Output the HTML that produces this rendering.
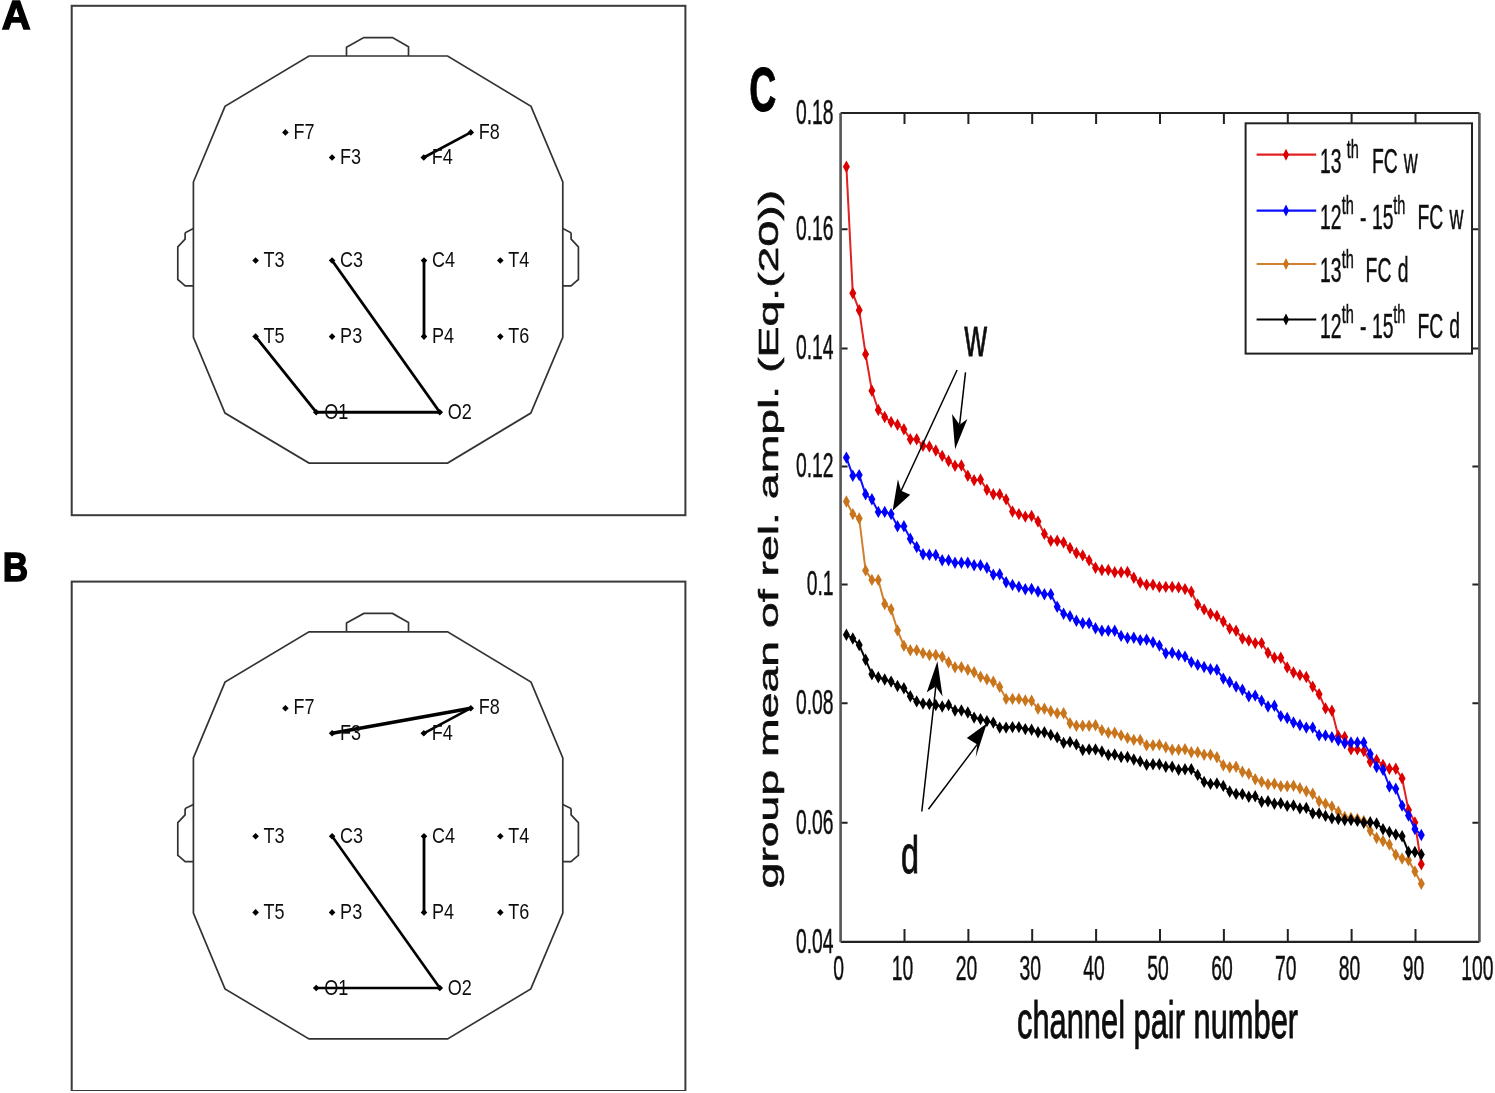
<!DOCTYPE html>
<html><head><meta charset="utf-8"><title>Figure</title>
<style>
html,body{margin:0;padding:0;background:#fff;}
body{width:1495px;height:1093px;overflow:hidden;}
svg{display:block;font-family:"Liberation Sans", sans-serif;}
</style></head>
<body>
<svg width="1495" height="1093" viewBox="0 0 1495 1093">
<defs><filter id="bl" x="0" y="0" width="100%" height="100%"><feGaussianBlur stdDeviation="0.55"/></filter></defs>
<rect width="1495" height="1093" fill="#fff"/>
<g filter="url(#bl)">
<rect x="71.7" y="5.8" width="613.7" height="509.4" fill="none" stroke="#3a3a3a" stroke-width="2"/>
<polygon points="193.4,182.0 225,106.3 309,56.0 447.6,56.0 531,106.3 562.8,182.0 562.8,337.4 530.8,413.1 447.6,463.1 309,463.1 225,413.1 193.4,337.4" fill="none" stroke="#333" stroke-width="1.7"/>
<polyline points="346.5,56.0 346.5,47.3 363.8,37.6 392.5,37.6 408.5,46.8 408.5,56.0" fill="none" stroke="#333" stroke-width="1.7"/>
<polyline points="193.4,228.6 185.6,232.5 185.1,233.7 185.1,239.1 177.8,246.9 177.8,279.5 180.6,281.9 185.2,285.8 193.4,285.8" fill="none" stroke="#333" stroke-width="1.7"/>
<polyline points="562.8,228.6 570.6,232.5 571.1,233.7 571.1,239.1 578.4,246.9 578.4,279.5 575.6,281.9 571.0,285.8 562.8,285.8" fill="none" stroke="#333" stroke-width="1.7"/>
<line x1="423.8" y1="157.5" x2="470.8" y2="132.4" stroke="#000" stroke-width="2.7"/>
<line x1="332.1" y1="260.5" x2="439.8" y2="412.2" stroke="#000" stroke-width="2.8"/>
<line x1="424" y1="260.5" x2="424" y2="336.6" stroke="#000" stroke-width="2.8"/>
<line x1="255.6" y1="336.6" x2="316.2" y2="412.2" stroke="#000" stroke-width="2.8"/>
<line x1="316.2" y1="412.2" x2="439.8" y2="412.2" stroke="#000" stroke-width="3"/>
<polygon points="282.1,132.4 285.4,129.1 288.7,132.4 285.4,135.7" fill="#000"/>
<g transform="translate(293.4,138.6) scale(0.82,1)"><text font-size="22" fill="#111">F7</text></g>
<polygon points="328.8,157.5 332.1,154.2 335.4,157.5 332.1,160.8" fill="#000"/>
<g transform="translate(340.1,163.7) scale(0.82,1)"><text font-size="22" fill="#111">F3</text></g>
<polygon points="420.5,157.5 423.8,154.2 427.1,157.5 423.8,160.8" fill="#000"/>
<g transform="translate(431.8,163.7) scale(0.82,1)"><text font-size="22" fill="#111">F4</text></g>
<polygon points="467.5,132.4 470.8,129.1 474.1,132.4 470.8,135.7" fill="#000"/>
<g transform="translate(478.8,138.6) scale(0.82,1)"><text font-size="22" fill="#111">F8</text></g>
<polygon points="252.3,260.5 255.6,257.2 258.9,260.5 255.6,263.8" fill="#000"/>
<g transform="translate(263.6,266.7) scale(0.82,1)"><text font-size="22" fill="#111">T3</text></g>
<polygon points="328.8,260.5 332.1,257.2 335.4,260.5 332.1,263.8" fill="#000"/>
<g transform="translate(340.1,266.7) scale(0.82,1)"><text font-size="22" fill="#111">C3</text></g>
<polygon points="420.7,260.5 424.0,257.2 427.3,260.5 424.0,263.8" fill="#000"/>
<g transform="translate(432.0,266.7) scale(0.82,1)"><text font-size="22" fill="#111">C4</text></g>
<polygon points="497.0,260.5 500.3,257.2 503.6,260.5 500.3,263.8" fill="#000"/>
<g transform="translate(508.3,266.7) scale(0.82,1)"><text font-size="22" fill="#111">T4</text></g>
<polygon points="252.3,336.6 255.6,333.3 258.9,336.6 255.6,339.9" fill="#000"/>
<g transform="translate(263.6,342.8) scale(0.82,1)"><text font-size="22" fill="#111">T5</text></g>
<polygon points="328.8,336.6 332.1,333.3 335.4,336.6 332.1,339.9" fill="#000"/>
<g transform="translate(340.1,342.8) scale(0.82,1)"><text font-size="22" fill="#111">P3</text></g>
<polygon points="420.7,336.6 424.0,333.3 427.3,336.6 424.0,339.9" fill="#000"/>
<g transform="translate(432.0,342.8) scale(0.82,1)"><text font-size="22" fill="#111">P4</text></g>
<polygon points="497.0,336.6 500.3,333.3 503.6,336.6 500.3,339.9" fill="#000"/>
<g transform="translate(508.3,342.8) scale(0.82,1)"><text font-size="22" fill="#111">T6</text></g>
<polygon points="312.9,412.2 316.2,408.9 319.5,412.2 316.2,415.5" fill="#000"/>
<g transform="translate(324.2,419.4) scale(0.82,1)"><text font-size="22" fill="#111">O1</text></g>
<polygon points="436.5,412.2 439.8,408.9 443.1,412.2 439.8,415.5" fill="#000"/>
<g transform="translate(447.8,419.4) scale(0.82,1)"><text font-size="22" fill="#111">O2</text></g>
<rect x="71.7" y="581.6" width="613.7" height="509.4" fill="none" stroke="#3a3a3a" stroke-width="2"/>
<polygon points="193.4,757.8 225,682.1 309,631.8 447.6,631.8 531,682.1 562.8,757.8 562.8,913.2 530.8,988.9 447.6,1038.9 309,1038.9 225,988.9 193.4,913.2" fill="none" stroke="#333" stroke-width="1.7"/>
<polyline points="346.5,631.8 346.5,623.1 363.8,613.4 392.5,613.4 408.5,622.6 408.5,631.8" fill="none" stroke="#333" stroke-width="1.7"/>
<polyline points="193.4,804.4 185.6,808.3 185.1,809.5 185.1,814.9 177.8,822.7 177.8,855.3 180.6,857.7 185.2,861.6 193.4,861.6" fill="none" stroke="#333" stroke-width="1.7"/>
<polyline points="562.8,804.4 570.6,808.3 571.1,809.5 571.1,814.9 578.4,822.7 578.4,855.3 575.6,857.7 571.0,861.6 562.8,861.6" fill="none" stroke="#333" stroke-width="1.7"/>
<line x1="332.1" y1="733.3" x2="470.8" y2="708.2" stroke="#000" stroke-width="3.6"/>
<line x1="423.8" y1="733.3" x2="470.8" y2="708.2" stroke="#000" stroke-width="2.6"/>
<line x1="332.1" y1="836.3" x2="439.8" y2="988.0" stroke="#000" stroke-width="2.6"/>
<line x1="424" y1="836.3" x2="424" y2="912.4" stroke="#000" stroke-width="2.8"/>
<line x1="316.2" y1="988.0" x2="439.8" y2="988.0" stroke="#000" stroke-width="2.6"/>
<polygon points="282.1,708.2 285.4,704.9 288.7,708.2 285.4,711.5" fill="#000"/>
<g transform="translate(293.4,714.4) scale(0.82,1)"><text font-size="22" fill="#111">F7</text></g>
<polygon points="328.8,733.3 332.1,730.0 335.4,733.3 332.1,736.6" fill="#000"/>
<g transform="translate(340.1,739.5) scale(0.82,1)"><text font-size="22" fill="#111">F3</text></g>
<polygon points="420.5,733.3 423.8,730.0 427.1,733.3 423.8,736.6" fill="#000"/>
<g transform="translate(431.8,739.5) scale(0.82,1)"><text font-size="22" fill="#111">F4</text></g>
<polygon points="467.5,708.2 470.8,704.9 474.1,708.2 470.8,711.5" fill="#000"/>
<g transform="translate(478.8,714.4) scale(0.82,1)"><text font-size="22" fill="#111">F8</text></g>
<polygon points="252.3,836.3 255.6,833.0 258.9,836.3 255.6,839.6" fill="#000"/>
<g transform="translate(263.6,842.5) scale(0.82,1)"><text font-size="22" fill="#111">T3</text></g>
<polygon points="328.8,836.3 332.1,833.0 335.4,836.3 332.1,839.6" fill="#000"/>
<g transform="translate(340.1,842.5) scale(0.82,1)"><text font-size="22" fill="#111">C3</text></g>
<polygon points="420.7,836.3 424.0,833.0 427.3,836.3 424.0,839.6" fill="#000"/>
<g transform="translate(432.0,842.5) scale(0.82,1)"><text font-size="22" fill="#111">C4</text></g>
<polygon points="497.0,836.3 500.3,833.0 503.6,836.3 500.3,839.6" fill="#000"/>
<g transform="translate(508.3,842.5) scale(0.82,1)"><text font-size="22" fill="#111">T4</text></g>
<polygon points="252.3,912.4 255.6,909.1 258.9,912.4 255.6,915.7" fill="#000"/>
<g transform="translate(263.6,918.6) scale(0.82,1)"><text font-size="22" fill="#111">T5</text></g>
<polygon points="328.8,912.4 332.1,909.1 335.4,912.4 332.1,915.7" fill="#000"/>
<g transform="translate(340.1,918.6) scale(0.82,1)"><text font-size="22" fill="#111">P3</text></g>
<polygon points="420.7,912.4 424.0,909.1 427.3,912.4 424.0,915.7" fill="#000"/>
<g transform="translate(432.0,918.6) scale(0.82,1)"><text font-size="22" fill="#111">P4</text></g>
<polygon points="497.0,912.4 500.3,909.1 503.6,912.4 500.3,915.7" fill="#000"/>
<g transform="translate(508.3,918.6) scale(0.82,1)"><text font-size="22" fill="#111">T6</text></g>
<polygon points="312.9,988.0 316.2,984.7 319.5,988.0 316.2,991.3" fill="#000"/>
<g transform="translate(324.2,995.2) scale(0.82,1)"><text font-size="22" fill="#111">O1</text></g>
<polygon points="436.5,988.0 439.8,984.7 443.1,988.0 439.8,991.3" fill="#000"/>
<g transform="translate(447.8,995.2) scale(0.82,1)"><text font-size="22" fill="#111">O2</text></g>
<text x="1.8" y="28.6" font-size="40" font-weight="bold" stroke="#000" stroke-width="1.4">A</text>
<g transform="translate(2.8,580.8) scale(0.88,1)"><text font-size="40" font-weight="bold" stroke="#000" stroke-width="1.4">B</text></g>
<g transform="translate(749.2,110.8) scale(0.6,1)"><text font-size="62.3" font-weight="bold" stroke="#000" stroke-width="1">C</text></g>
<g transform="translate(833.6,123.9) scale(0.545,1)"><text text-anchor="end" font-size="35.5" fill="#111" stroke="#111" stroke-width="0.5">0.18</text></g>
<g transform="translate(833.6,240.1) scale(0.545,1)"><text text-anchor="end" font-size="35.5" fill="#111" stroke="#111" stroke-width="0.5">0.16</text></g>
<g transform="translate(833.6,359.3) scale(0.545,1)"><text text-anchor="end" font-size="35.5" fill="#111" stroke="#111" stroke-width="0.5">0.14</text></g>
<g transform="translate(833.6,477.3) scale(0.545,1)"><text text-anchor="end" font-size="35.5" fill="#111" stroke="#111" stroke-width="0.5">0.12</text></g>
<g transform="translate(833.6,595.3) scale(0.545,1)"><text text-anchor="end" font-size="35.5" fill="#111" stroke="#111" stroke-width="0.5">0.1</text></g>
<g transform="translate(833.6,714.2) scale(0.545,1)"><text text-anchor="end" font-size="35.5" fill="#111" stroke="#111" stroke-width="0.5">0.08</text></g>
<g transform="translate(833.6,833.6) scale(0.545,1)"><text text-anchor="end" font-size="35.5" fill="#111" stroke="#111" stroke-width="0.5">0.06</text></g>
<g transform="translate(833.6,952.8) scale(0.545,1)"><text text-anchor="end" font-size="35.5" fill="#111" stroke="#111" stroke-width="0.5">0.04</text></g>
<g transform="translate(838.6,980) scale(0.545,1)"><text text-anchor="middle" font-size="35.5" fill="#111" stroke="#111" stroke-width="0.5">0</text></g>
<g transform="translate(902.5,980) scale(0.545,1)"><text text-anchor="middle" font-size="35.5" fill="#111" stroke="#111" stroke-width="0.5">10</text></g>
<g transform="translate(966.4,980) scale(0.545,1)"><text text-anchor="middle" font-size="35.5" fill="#111" stroke="#111" stroke-width="0.5">20</text></g>
<g transform="translate(1030.2,980) scale(0.545,1)"><text text-anchor="middle" font-size="35.5" fill="#111" stroke="#111" stroke-width="0.5">30</text></g>
<g transform="translate(1094.1,980) scale(0.545,1)"><text text-anchor="middle" font-size="35.5" fill="#111" stroke="#111" stroke-width="0.5">40</text></g>
<g transform="translate(1158.0,980) scale(0.545,1)"><text text-anchor="middle" font-size="35.5" fill="#111" stroke="#111" stroke-width="0.5">50</text></g>
<g transform="translate(1221.9,980) scale(0.545,1)"><text text-anchor="middle" font-size="35.5" fill="#111" stroke="#111" stroke-width="0.5">60</text></g>
<g transform="translate(1285.8,980) scale(0.545,1)"><text text-anchor="middle" font-size="35.5" fill="#111" stroke="#111" stroke-width="0.5">70</text></g>
<g transform="translate(1349.6,980) scale(0.545,1)"><text text-anchor="middle" font-size="35.5" fill="#111" stroke="#111" stroke-width="0.5">80</text></g>
<g transform="translate(1413.5,980) scale(0.545,1)"><text text-anchor="middle" font-size="35.5" fill="#111" stroke="#111" stroke-width="0.5">90</text></g>
<g transform="translate(1477.4,980) scale(0.545,1)"><text text-anchor="middle" font-size="35.5" fill="#111" stroke="#111" stroke-width="0.5">100</text></g>
<path d="M904.5,941.9V929M904.5,113V124M968.4,941.9V929M968.4,113V124M1032.2,941.9V929M1032.2,113V124M1096.1,941.9V929M1096.1,113V124M1160.0,941.9V929M1160.0,113V124M1223.9,941.9V929M1223.9,113V124M1287.8,941.9V929M1287.8,113V124M1351.6,941.9V929M1351.6,113V124M1415.5,941.9V929M1415.5,113V124M840.6,229.2H847.6M1479.4,229.2H1472.4M840.6,348.4H847.6M1479.4,348.4H1472.4M840.6,466.4H847.6M1479.4,466.4H1472.4M840.6,584.4H847.6M1479.4,584.4H1472.4M840.6,703.3H847.6M1479.4,703.3H1472.4M840.6,822.7H847.6M1479.4,822.7H1472.4" stroke="#222" stroke-width="2" fill="none"/>
<polyline points="846.4,166.8 852.8,293.2 859.2,310.2 865.6,354.2 871.9,390.8 878.3,410.0 884.7,417.0 891.1,422.0 897.5,424.7 903.9,429.3 910.3,439.3 916.7,439.3 923.0,445.7 929.4,446.5 935.8,450.5 942.2,455.9 948.6,461.0 955.0,465.8 961.4,465.5 967.8,475.7 974.1,480.2 980.5,479.5 986.9,489.8 993.3,494.3 999.7,494.3 1006.1,499.4 1012.5,511.5 1018.9,514.1 1025.3,516.6 1031.6,516.0 1038.0,521.5 1044.4,533.9 1050.8,540.7 1057.2,540.7 1063.6,542.5 1070.0,548.0 1076.4,553.0 1082.7,555.4 1089.1,560.4 1095.5,567.7 1101.9,570.0 1108.3,570.0 1114.7,572.3 1121.1,572.3 1127.5,572.0 1133.8,577.7 1140.2,582.5 1146.6,584.7 1153.0,584.7 1159.4,586.9 1165.8,586.9 1172.2,586.9 1178.6,587.4 1185.0,589.1 1191.3,591.8 1197.7,604.5 1204.1,609.4 1210.5,613.8 1216.9,616.0 1223.3,621.5 1229.7,628.6 1236.1,630.8 1242.4,638.5 1248.8,640.5 1255.2,643.1 1261.6,643.1 1268.0,652.7 1274.4,657.8 1280.8,657.8 1287.2,667.4 1293.5,672.5 1299.9,675.1 1306.3,677.0 1312.7,686.6 1319.1,694.3 1325.5,708.4 1331.9,710.8 1338.3,736.0 1344.7,737.0 1351.0,749.4 1357.4,749.4 1363.8,751.0 1370.2,761.7 1376.6,760.0 1383.0,765.0 1389.4,768.8 1395.8,768.8 1402.1,778.4 1408.5,810.0 1414.9,822.4 1421.3,864.3" fill="none" stroke="#e02020" stroke-width="2"/>
<path d="M842.9,166.8L846.4,160.6L849.9,166.8L846.4,173.0ZM849.3,293.2L852.8,287.0L856.3,293.2L852.8,299.4ZM855.7,310.2L859.2,304.0L862.7,310.2L859.2,316.4ZM862.1,354.2L865.6,348.0L869.1,354.2L865.6,360.4ZM868.4,390.8L871.9,384.6L875.4,390.8L871.9,397.0ZM874.8,410.0L878.3,403.8L881.8,410.0L878.3,416.2ZM881.2,417.0L884.7,410.8L888.2,417.0L884.7,423.2ZM887.6,422.0L891.1,415.8L894.6,422.0L891.1,428.2ZM894.0,424.7L897.5,418.5L901.0,424.7L897.5,430.9ZM900.4,429.3L903.9,423.1L907.4,429.3L903.9,435.5ZM906.8,439.3L910.3,433.1L913.8,439.3L910.3,445.5ZM913.2,439.3L916.7,433.1L920.2,439.3L916.7,445.5ZM919.5,445.7L923.0,439.5L926.5,445.7L923.0,451.9ZM925.9,446.5L929.4,440.3L932.9,446.5L929.4,452.7ZM932.3,450.5L935.8,444.3L939.3,450.5L935.8,456.7ZM938.7,455.9L942.2,449.7L945.7,455.9L942.2,462.1ZM945.1,461.0L948.6,454.8L952.1,461.0L948.6,467.2ZM951.5,465.8L955.0,459.6L958.5,465.8L955.0,472.0ZM957.9,465.5L961.4,459.3L964.9,465.5L961.4,471.7ZM964.3,475.7L967.8,469.5L971.3,475.7L967.8,481.9ZM970.6,480.2L974.1,474.0L977.6,480.2L974.1,486.4ZM977.0,479.5L980.5,473.3L984.0,479.5L980.5,485.7ZM983.4,489.8L986.9,483.6L990.4,489.8L986.9,496.0ZM989.8,494.3L993.3,488.1L996.8,494.3L993.3,500.5ZM996.2,494.3L999.7,488.1L1003.2,494.3L999.7,500.5ZM1002.6,499.4L1006.1,493.2L1009.6,499.4L1006.1,505.6ZM1009.0,511.5L1012.5,505.3L1016.0,511.5L1012.5,517.7ZM1015.4,514.1L1018.9,507.9L1022.4,514.1L1018.9,520.3ZM1021.8,516.6L1025.3,510.4L1028.8,516.6L1025.3,522.8ZM1028.1,516.0L1031.6,509.8L1035.1,516.0L1031.6,522.2ZM1034.5,521.5L1038.0,515.3L1041.5,521.5L1038.0,527.7ZM1040.9,533.9L1044.4,527.7L1047.9,533.9L1044.4,540.1ZM1047.3,540.7L1050.8,534.5L1054.3,540.7L1050.8,546.9ZM1053.7,540.7L1057.2,534.5L1060.7,540.7L1057.2,546.9ZM1060.1,542.5L1063.6,536.3L1067.1,542.5L1063.6,548.7ZM1066.5,548.0L1070.0,541.8L1073.5,548.0L1070.0,554.2ZM1072.9,553.0L1076.4,546.8L1079.9,553.0L1076.4,559.2ZM1079.2,555.4L1082.7,549.2L1086.2,555.4L1082.7,561.6ZM1085.6,560.4L1089.1,554.2L1092.6,560.4L1089.1,566.6ZM1092.0,567.7L1095.5,561.5L1099.0,567.7L1095.5,573.9ZM1098.4,570.0L1101.9,563.8L1105.4,570.0L1101.9,576.2ZM1104.8,570.0L1108.3,563.8L1111.8,570.0L1108.3,576.2ZM1111.2,572.3L1114.7,566.1L1118.2,572.3L1114.7,578.5ZM1117.6,572.3L1121.1,566.1L1124.6,572.3L1121.1,578.5ZM1124.0,572.0L1127.5,565.8L1131.0,572.0L1127.5,578.2ZM1130.3,577.7L1133.8,571.5L1137.3,577.7L1133.8,583.9ZM1136.7,582.5L1140.2,576.3L1143.7,582.5L1140.2,588.7ZM1143.1,584.7L1146.6,578.5L1150.1,584.7L1146.6,590.9ZM1149.5,584.7L1153.0,578.5L1156.5,584.7L1153.0,590.9ZM1155.9,586.9L1159.4,580.7L1162.9,586.9L1159.4,593.1ZM1162.3,586.9L1165.8,580.7L1169.3,586.9L1165.8,593.1ZM1168.7,586.9L1172.2,580.7L1175.7,586.9L1172.2,593.1ZM1175.1,587.4L1178.6,581.2L1182.1,587.4L1178.6,593.6ZM1181.5,589.1L1185.0,582.9L1188.5,589.1L1185.0,595.3ZM1187.8,591.8L1191.3,585.6L1194.8,591.8L1191.3,598.0ZM1194.2,604.5L1197.7,598.3L1201.2,604.5L1197.7,610.7ZM1200.6,609.4L1204.1,603.2L1207.6,609.4L1204.1,615.6ZM1207.0,613.8L1210.5,607.6L1214.0,613.8L1210.5,620.0ZM1213.4,616.0L1216.9,609.8L1220.4,616.0L1216.9,622.2ZM1219.8,621.5L1223.3,615.3L1226.8,621.5L1223.3,627.7ZM1226.2,628.6L1229.7,622.4L1233.2,628.6L1229.7,634.8ZM1232.6,630.8L1236.1,624.6L1239.6,630.8L1236.1,637.0ZM1238.9,638.5L1242.4,632.3L1245.9,638.5L1242.4,644.7ZM1245.3,640.5L1248.8,634.3L1252.3,640.5L1248.8,646.7ZM1251.7,643.1L1255.2,636.9L1258.7,643.1L1255.2,649.3ZM1258.1,643.1L1261.6,636.9L1265.1,643.1L1261.6,649.3ZM1264.5,652.7L1268.0,646.5L1271.5,652.7L1268.0,658.9ZM1270.9,657.8L1274.4,651.6L1277.9,657.8L1274.4,664.0ZM1277.3,657.8L1280.8,651.6L1284.3,657.8L1280.8,664.0ZM1283.7,667.4L1287.2,661.2L1290.7,667.4L1287.2,673.6ZM1290.0,672.5L1293.5,666.3L1297.0,672.5L1293.5,678.7ZM1296.4,675.1L1299.9,668.9L1303.4,675.1L1299.9,681.3ZM1302.8,677.0L1306.3,670.8L1309.8,677.0L1306.3,683.2ZM1309.2,686.6L1312.7,680.4L1316.2,686.6L1312.7,692.8ZM1315.6,694.3L1319.1,688.1L1322.6,694.3L1319.1,700.5ZM1322.0,708.4L1325.5,702.2L1329.0,708.4L1325.5,714.6ZM1328.4,710.8L1331.9,704.6L1335.4,710.8L1331.9,717.0ZM1334.8,736.0L1338.3,729.8L1341.8,736.0L1338.3,742.2ZM1341.2,737.0L1344.7,730.8L1348.2,737.0L1344.7,743.2ZM1347.5,749.4L1351.0,743.2L1354.5,749.4L1351.0,755.6ZM1353.9,749.4L1357.4,743.2L1360.9,749.4L1357.4,755.6ZM1360.3,751.0L1363.8,744.8L1367.3,751.0L1363.8,757.2ZM1366.7,761.7L1370.2,755.5L1373.7,761.7L1370.2,767.9ZM1373.1,760.0L1376.6,753.8L1380.1,760.0L1376.6,766.2ZM1379.5,765.0L1383.0,758.8L1386.5,765.0L1383.0,771.2ZM1385.9,768.8L1389.4,762.6L1392.9,768.8L1389.4,775.0ZM1392.3,768.8L1395.8,762.6L1399.3,768.8L1395.8,775.0ZM1398.6,778.4L1402.1,772.2L1405.6,778.4L1402.1,784.6ZM1405.0,810.0L1408.5,803.8L1412.0,810.0L1408.5,816.2ZM1411.4,822.4L1414.9,816.2L1418.4,822.4L1414.9,828.6ZM1417.8,864.3L1421.3,858.1L1424.8,864.3L1421.3,870.5Z" fill="#dd0000"/>
<polyline points="846.4,457.6 852.8,475.7 859.2,475.1 865.6,494.3 871.9,499.3 878.3,511.9 884.7,511.9 891.1,514.1 897.5,526.2 903.9,526.2 910.3,538.8 916.7,547.0 923.0,554.2 929.4,554.7 935.8,555.0 942.2,560.2 948.6,560.2 955.0,562.7 961.4,562.7 967.8,562.7 974.1,565.2 980.5,565.2 986.9,567.7 993.3,574.8 999.7,574.3 1006.1,582.3 1012.5,584.9 1018.9,586.7 1025.3,589.3 1031.6,589.0 1038.0,591.5 1044.4,594.3 1050.8,594.2 1057.2,606.7 1063.6,613.7 1070.0,616.2 1076.4,620.8 1082.7,623.3 1089.1,623.3 1095.5,628.3 1101.9,630.8 1108.3,630.8 1114.7,630.8 1121.1,635.9 1127.5,638.0 1133.8,637.7 1140.2,640.1 1146.6,639.6 1153.0,642.3 1159.4,645.6 1165.8,653.3 1172.2,652.8 1178.6,655.0 1185.0,656.6 1191.3,662.1 1197.7,664.9 1204.1,667.0 1210.5,669.2 1216.9,669.8 1223.3,678.6 1229.7,682.0 1236.1,686.6 1242.4,689.8 1248.8,696.2 1255.2,695.6 1261.6,700.7 1268.0,706.5 1274.4,705.8 1280.8,716.1 1287.2,718.0 1293.5,722.5 1299.9,725.0 1306.3,727.6 1312.7,727.6 1319.1,735.3 1325.5,735.4 1331.9,737.2 1338.3,740.3 1344.7,743.3 1351.0,742.5 1357.4,742.5 1363.8,742.5 1370.2,754.0 1376.6,767.0 1383.0,769.7 1389.4,786.5 1395.8,788.7 1402.1,805.6 1408.5,815.5 1414.9,829.0 1421.3,835.0" fill="none" stroke="#1010ff" stroke-width="2"/>
<path d="M842.9,457.6L846.4,451.4L849.9,457.6L846.4,463.8ZM849.3,475.7L852.8,469.5L856.3,475.7L852.8,481.9ZM855.7,475.1L859.2,468.9L862.7,475.1L859.2,481.3ZM862.1,494.3L865.6,488.1L869.1,494.3L865.6,500.5ZM868.4,499.3L871.9,493.1L875.4,499.3L871.9,505.5ZM874.8,511.9L878.3,505.7L881.8,511.9L878.3,518.1ZM881.2,511.9L884.7,505.7L888.2,511.9L884.7,518.1ZM887.6,514.1L891.1,507.9L894.6,514.1L891.1,520.3ZM894.0,526.2L897.5,520.0L901.0,526.2L897.5,532.4ZM900.4,526.2L903.9,520.0L907.4,526.2L903.9,532.4ZM906.8,538.8L910.3,532.6L913.8,538.8L910.3,545.0ZM913.2,547.0L916.7,540.8L920.2,547.0L916.7,553.2ZM919.5,554.2L923.0,548.0L926.5,554.2L923.0,560.4ZM925.9,554.7L929.4,548.5L932.9,554.7L929.4,560.9ZM932.3,555.0L935.8,548.8L939.3,555.0L935.8,561.2ZM938.7,560.2L942.2,554.0L945.7,560.2L942.2,566.4ZM945.1,560.2L948.6,554.0L952.1,560.2L948.6,566.4ZM951.5,562.7L955.0,556.5L958.5,562.7L955.0,568.9ZM957.9,562.7L961.4,556.5L964.9,562.7L961.4,568.9ZM964.3,562.7L967.8,556.5L971.3,562.7L967.8,568.9ZM970.6,565.2L974.1,559.0L977.6,565.2L974.1,571.4ZM977.0,565.2L980.5,559.0L984.0,565.2L980.5,571.4ZM983.4,567.7L986.9,561.5L990.4,567.7L986.9,573.9ZM989.8,574.8L993.3,568.6L996.8,574.8L993.3,581.0ZM996.2,574.3L999.7,568.1L1003.2,574.3L999.7,580.5ZM1002.6,582.3L1006.1,576.1L1009.6,582.3L1006.1,588.5ZM1009.0,584.9L1012.5,578.7L1016.0,584.9L1012.5,591.1ZM1015.4,586.7L1018.9,580.5L1022.4,586.7L1018.9,592.9ZM1021.8,589.3L1025.3,583.1L1028.8,589.3L1025.3,595.5ZM1028.1,589.0L1031.6,582.8L1035.1,589.0L1031.6,595.2ZM1034.5,591.5L1038.0,585.3L1041.5,591.5L1038.0,597.7ZM1040.9,594.3L1044.4,588.1L1047.9,594.3L1044.4,600.5ZM1047.3,594.2L1050.8,588.0L1054.3,594.2L1050.8,600.4ZM1053.7,606.7L1057.2,600.5L1060.7,606.7L1057.2,612.9ZM1060.1,613.7L1063.6,607.5L1067.1,613.7L1063.6,619.9ZM1066.5,616.2L1070.0,610.0L1073.5,616.2L1070.0,622.4ZM1072.9,620.8L1076.4,614.6L1079.9,620.8L1076.4,627.0ZM1079.2,623.3L1082.7,617.1L1086.2,623.3L1082.7,629.5ZM1085.6,623.3L1089.1,617.1L1092.6,623.3L1089.1,629.5ZM1092.0,628.3L1095.5,622.1L1099.0,628.3L1095.5,634.5ZM1098.4,630.8L1101.9,624.6L1105.4,630.8L1101.9,637.0ZM1104.8,630.8L1108.3,624.6L1111.8,630.8L1108.3,637.0ZM1111.2,630.8L1114.7,624.6L1118.2,630.8L1114.7,637.0ZM1117.6,635.9L1121.1,629.7L1124.6,635.9L1121.1,642.1ZM1124.0,638.0L1127.5,631.8L1131.0,638.0L1127.5,644.2ZM1130.3,637.7L1133.8,631.5L1137.3,637.7L1133.8,643.9ZM1136.7,640.1L1140.2,633.9L1143.7,640.1L1140.2,646.3ZM1143.1,639.6L1146.6,633.4L1150.1,639.6L1146.6,645.8ZM1149.5,642.3L1153.0,636.1L1156.5,642.3L1153.0,648.5ZM1155.9,645.6L1159.4,639.4L1162.9,645.6L1159.4,651.8ZM1162.3,653.3L1165.8,647.1L1169.3,653.3L1165.8,659.5ZM1168.7,652.8L1172.2,646.6L1175.7,652.8L1172.2,659.0ZM1175.1,655.0L1178.6,648.8L1182.1,655.0L1178.6,661.2ZM1181.5,656.6L1185.0,650.4L1188.5,656.6L1185.0,662.8ZM1187.8,662.1L1191.3,655.9L1194.8,662.1L1191.3,668.3ZM1194.2,664.9L1197.7,658.7L1201.2,664.9L1197.7,671.1ZM1200.6,667.0L1204.1,660.8L1207.6,667.0L1204.1,673.2ZM1207.0,669.2L1210.5,663.0L1214.0,669.2L1210.5,675.4ZM1213.4,669.8L1216.9,663.6L1220.4,669.8L1216.9,676.0ZM1219.8,678.6L1223.3,672.4L1226.8,678.6L1223.3,684.8ZM1226.2,682.0L1229.7,675.8L1233.2,682.0L1229.7,688.2ZM1232.6,686.6L1236.1,680.4L1239.6,686.6L1236.1,692.8ZM1238.9,689.8L1242.4,683.6L1245.9,689.8L1242.4,696.0ZM1245.3,696.2L1248.8,690.0L1252.3,696.2L1248.8,702.4ZM1251.7,695.6L1255.2,689.4L1258.7,695.6L1255.2,701.8ZM1258.1,700.7L1261.6,694.5L1265.1,700.7L1261.6,706.9ZM1264.5,706.5L1268.0,700.3L1271.5,706.5L1268.0,712.7ZM1270.9,705.8L1274.4,699.6L1277.9,705.8L1274.4,712.0ZM1277.3,716.1L1280.8,709.9L1284.3,716.1L1280.8,722.3ZM1283.7,718.0L1287.2,711.8L1290.7,718.0L1287.2,724.2ZM1290.0,722.5L1293.5,716.3L1297.0,722.5L1293.5,728.7ZM1296.4,725.0L1299.9,718.8L1303.4,725.0L1299.9,731.2ZM1302.8,727.6L1306.3,721.4L1309.8,727.6L1306.3,733.8ZM1309.2,727.6L1312.7,721.4L1316.2,727.6L1312.7,733.8ZM1315.6,735.3L1319.1,729.1L1322.6,735.3L1319.1,741.5ZM1322.0,735.4L1325.5,729.2L1329.0,735.4L1325.5,741.6ZM1328.4,737.2L1331.9,731.0L1335.4,737.2L1331.9,743.4ZM1334.8,740.3L1338.3,734.1L1341.8,740.3L1338.3,746.5ZM1341.2,743.3L1344.7,737.1L1348.2,743.3L1344.7,749.5ZM1347.5,742.5L1351.0,736.3L1354.5,742.5L1351.0,748.7ZM1353.9,742.5L1357.4,736.3L1360.9,742.5L1357.4,748.7ZM1360.3,742.5L1363.8,736.3L1367.3,742.5L1363.8,748.7ZM1366.7,754.0L1370.2,747.8L1373.7,754.0L1370.2,760.2ZM1373.1,767.0L1376.6,760.8L1380.1,767.0L1376.6,773.2ZM1379.5,769.7L1383.0,763.5L1386.5,769.7L1383.0,775.9ZM1385.9,786.5L1389.4,780.3L1392.9,786.5L1389.4,792.7ZM1392.3,788.7L1395.8,782.5L1399.3,788.7L1395.8,794.9ZM1398.6,805.6L1402.1,799.4L1405.6,805.6L1402.1,811.8ZM1405.0,815.5L1408.5,809.3L1412.0,815.5L1408.5,821.7ZM1411.4,829.0L1414.9,822.8L1418.4,829.0L1414.9,835.2ZM1417.8,835.0L1421.3,828.8L1424.8,835.0L1421.3,841.2Z" fill="#0000ff"/>
<polyline points="846.4,501.5 852.8,514.1 859.2,518.5 865.6,570.4 871.9,579.9 878.3,579.9 884.7,604.0 891.1,609.2 897.5,630.4 903.9,645.8 910.3,650.2 916.7,650.2 923.0,653.1 929.4,655.0 935.8,655.0 942.2,656.7 948.6,662.2 955.0,667.2 961.4,667.2 967.8,669.8 974.1,672.3 980.5,676.8 986.9,679.3 993.3,681.8 999.7,686.9 1006.1,698.9 1012.5,698.9 1018.9,698.9 1025.3,700.5 1031.6,700.8 1038.0,708.7 1044.4,708.7 1050.8,711.2 1057.2,713.2 1063.6,713.2 1070.0,723.3 1076.4,725.8 1082.7,725.8 1089.1,725.8 1095.5,725.3 1101.9,730.3 1108.3,732.8 1114.7,732.8 1121.1,735.4 1127.5,737.9 1133.8,739.9 1140.2,740.0 1146.6,745.2 1153.0,745.2 1159.4,744.7 1165.8,747.2 1172.2,749.7 1178.6,749.7 1185.0,749.2 1191.3,752.2 1197.7,752.2 1204.1,754.7 1210.5,754.7 1216.9,757.2 1223.3,765.3 1229.7,767.3 1236.1,766.7 1242.4,771.7 1248.8,773.7 1255.2,779.2 1261.6,781.7 1268.0,784.2 1274.4,783.7 1280.8,786.2 1287.2,786.2 1293.5,785.7 1299.9,788.2 1306.3,791.3 1312.7,793.8 1319.1,801.3 1325.5,803.8 1331.9,806.4 1338.3,811.8 1344.7,817.0 1351.0,818.0 1357.4,819.0 1363.8,821.0 1370.2,830.8 1376.6,838.0 1383.0,841.0 1389.4,844.5 1395.8,854.7 1402.1,858.5 1408.5,860.2 1414.9,871.5 1421.3,883.7" fill="none" stroke="#d08030" stroke-width="2"/>
<path d="M842.9,501.5L846.4,495.3L849.9,501.5L846.4,507.7ZM849.3,514.1L852.8,507.9L856.3,514.1L852.8,520.3ZM855.7,518.5L859.2,512.3L862.7,518.5L859.2,524.7ZM862.1,570.4L865.6,564.2L869.1,570.4L865.6,576.6ZM868.4,579.9L871.9,573.7L875.4,579.9L871.9,586.1ZM874.8,579.9L878.3,573.7L881.8,579.9L878.3,586.1ZM881.2,604.0L884.7,597.8L888.2,604.0L884.7,610.2ZM887.6,609.2L891.1,603.0L894.6,609.2L891.1,615.4ZM894.0,630.4L897.5,624.2L901.0,630.4L897.5,636.6ZM900.4,645.8L903.9,639.6L907.4,645.8L903.9,652.0ZM906.8,650.2L910.3,644.0L913.8,650.2L910.3,656.4ZM913.2,650.2L916.7,644.0L920.2,650.2L916.7,656.4ZM919.5,653.1L923.0,646.9L926.5,653.1L923.0,659.3ZM925.9,655.0L929.4,648.8L932.9,655.0L929.4,661.2ZM932.3,655.0L935.8,648.8L939.3,655.0L935.8,661.2ZM938.7,656.7L942.2,650.5L945.7,656.7L942.2,662.9ZM945.1,662.2L948.6,656.0L952.1,662.2L948.6,668.4ZM951.5,667.2L955.0,661.0L958.5,667.2L955.0,673.4ZM957.9,667.2L961.4,661.0L964.9,667.2L961.4,673.4ZM964.3,669.8L967.8,663.6L971.3,669.8L967.8,676.0ZM970.6,672.3L974.1,666.1L977.6,672.3L974.1,678.5ZM977.0,676.8L980.5,670.6L984.0,676.8L980.5,683.0ZM983.4,679.3L986.9,673.1L990.4,679.3L986.9,685.5ZM989.8,681.8L993.3,675.6L996.8,681.8L993.3,688.0ZM996.2,686.9L999.7,680.7L1003.2,686.9L999.7,693.1ZM1002.6,698.9L1006.1,692.7L1009.6,698.9L1006.1,705.1ZM1009.0,698.9L1012.5,692.7L1016.0,698.9L1012.5,705.1ZM1015.4,698.9L1018.9,692.7L1022.4,698.9L1018.9,705.1ZM1021.8,700.5L1025.3,694.3L1028.8,700.5L1025.3,706.7ZM1028.1,700.8L1031.6,694.6L1035.1,700.8L1031.6,707.0ZM1034.5,708.7L1038.0,702.5L1041.5,708.7L1038.0,714.9ZM1040.9,708.7L1044.4,702.5L1047.9,708.7L1044.4,714.9ZM1047.3,711.2L1050.8,705.0L1054.3,711.2L1050.8,717.4ZM1053.7,713.2L1057.2,707.0L1060.7,713.2L1057.2,719.4ZM1060.1,713.2L1063.6,707.0L1067.1,713.2L1063.6,719.4ZM1066.5,723.3L1070.0,717.1L1073.5,723.3L1070.0,729.5ZM1072.9,725.8L1076.4,719.6L1079.9,725.8L1076.4,732.0ZM1079.2,725.8L1082.7,719.6L1086.2,725.8L1082.7,732.0ZM1085.6,725.8L1089.1,719.6L1092.6,725.8L1089.1,732.0ZM1092.0,725.3L1095.5,719.1L1099.0,725.3L1095.5,731.5ZM1098.4,730.3L1101.9,724.1L1105.4,730.3L1101.9,736.5ZM1104.8,732.8L1108.3,726.6L1111.8,732.8L1108.3,739.0ZM1111.2,732.8L1114.7,726.6L1118.2,732.8L1114.7,739.0ZM1117.6,735.4L1121.1,729.2L1124.6,735.4L1121.1,741.6ZM1124.0,737.9L1127.5,731.7L1131.0,737.9L1127.5,744.1ZM1130.3,739.9L1133.8,733.7L1137.3,739.9L1133.8,746.1ZM1136.7,740.0L1140.2,733.8L1143.7,740.0L1140.2,746.2ZM1143.1,745.2L1146.6,739.0L1150.1,745.2L1146.6,751.4ZM1149.5,745.2L1153.0,739.0L1156.5,745.2L1153.0,751.4ZM1155.9,744.7L1159.4,738.5L1162.9,744.7L1159.4,750.9ZM1162.3,747.2L1165.8,741.0L1169.3,747.2L1165.8,753.4ZM1168.7,749.7L1172.2,743.5L1175.7,749.7L1172.2,755.9ZM1175.1,749.7L1178.6,743.5L1182.1,749.7L1178.6,755.9ZM1181.5,749.2L1185.0,743.0L1188.5,749.2L1185.0,755.4ZM1187.8,752.2L1191.3,746.0L1194.8,752.2L1191.3,758.4ZM1194.2,752.2L1197.7,746.0L1201.2,752.2L1197.7,758.4ZM1200.6,754.7L1204.1,748.5L1207.6,754.7L1204.1,760.9ZM1207.0,754.7L1210.5,748.5L1214.0,754.7L1210.5,760.9ZM1213.4,757.2L1216.9,751.0L1220.4,757.2L1216.9,763.4ZM1219.8,765.3L1223.3,759.1L1226.8,765.3L1223.3,771.5ZM1226.2,767.3L1229.7,761.1L1233.2,767.3L1229.7,773.5ZM1232.6,766.7L1236.1,760.5L1239.6,766.7L1236.1,772.9ZM1238.9,771.7L1242.4,765.5L1245.9,771.7L1242.4,777.9ZM1245.3,773.7L1248.8,767.5L1252.3,773.7L1248.8,779.9ZM1251.7,779.2L1255.2,773.0L1258.7,779.2L1255.2,785.4ZM1258.1,781.7L1261.6,775.5L1265.1,781.7L1261.6,787.9ZM1264.5,784.2L1268.0,778.0L1271.5,784.2L1268.0,790.4ZM1270.9,783.7L1274.4,777.5L1277.9,783.7L1274.4,789.9ZM1277.3,786.2L1280.8,780.0L1284.3,786.2L1280.8,792.4ZM1283.7,786.2L1287.2,780.0L1290.7,786.2L1287.2,792.4ZM1290.0,785.7L1293.5,779.5L1297.0,785.7L1293.5,791.9ZM1296.4,788.2L1299.9,782.0L1303.4,788.2L1299.9,794.4ZM1302.8,791.3L1306.3,785.1L1309.8,791.3L1306.3,797.5ZM1309.2,793.8L1312.7,787.6L1316.2,793.8L1312.7,800.0ZM1315.6,801.3L1319.1,795.1L1322.6,801.3L1319.1,807.5ZM1322.0,803.8L1325.5,797.6L1329.0,803.8L1325.5,810.0ZM1328.4,806.4L1331.9,800.2L1335.4,806.4L1331.9,812.6ZM1334.8,811.8L1338.3,805.6L1341.8,811.8L1338.3,818.0ZM1341.2,817.0L1344.7,810.8L1348.2,817.0L1344.7,823.2ZM1347.5,818.0L1351.0,811.8L1354.5,818.0L1351.0,824.2ZM1353.9,819.0L1357.4,812.8L1360.9,819.0L1357.4,825.2ZM1360.3,821.0L1363.8,814.8L1367.3,821.0L1363.8,827.2ZM1366.7,830.8L1370.2,824.6L1373.7,830.8L1370.2,837.0ZM1373.1,838.0L1376.6,831.8L1380.1,838.0L1376.6,844.2ZM1379.5,841.0L1383.0,834.8L1386.5,841.0L1383.0,847.2ZM1385.9,844.5L1389.4,838.3L1392.9,844.5L1389.4,850.7ZM1392.3,854.7L1395.8,848.5L1399.3,854.7L1395.8,860.9ZM1398.6,858.5L1402.1,852.3L1405.6,858.5L1402.1,864.7ZM1405.0,860.2L1408.5,854.0L1412.0,860.2L1408.5,866.4ZM1411.4,871.5L1414.9,865.3L1418.4,871.5L1414.9,877.7ZM1417.8,883.7L1421.3,877.5L1424.8,883.7L1421.3,889.9Z" fill="#c9741f"/>
<polyline points="846.4,634.8 852.8,638.5 859.2,645.0 865.6,659.7 871.9,674.3 878.3,677.3 884.7,679.5 891.1,681.6 897.5,686.0 903.9,688.2 910.3,696.3 916.7,701.4 923.0,703.6 929.4,704.0 935.8,705.0 942.2,706.5 948.6,705.0 955.0,710.5 961.4,710.5 967.8,712.5 974.1,717.6 980.5,719.1 986.9,721.1 993.3,722.6 999.7,727.6 1006.1,727.6 1012.5,727.1 1018.9,727.1 1025.3,729.1 1031.6,729.7 1038.0,732.3 1044.4,732.3 1050.8,734.9 1057.2,737.4 1063.6,742.9 1070.0,741.9 1076.4,744.4 1082.7,750.0 1089.1,749.4 1095.5,749.4 1101.9,751.5 1108.3,755.0 1114.7,754.5 1121.1,757.0 1127.5,757.0 1133.8,759.5 1140.2,761.4 1146.6,764.8 1153.0,764.3 1159.4,764.3 1165.8,766.8 1172.2,766.8 1178.6,769.8 1185.0,769.3 1191.3,769.3 1197.7,774.9 1204.1,781.9 1210.5,783.9 1216.9,783.4 1223.3,785.9 1229.7,791.5 1236.1,793.9 1242.4,794.1 1248.8,796.8 1255.2,796.3 1261.6,801.8 1268.0,801.3 1274.4,803.8 1280.8,803.3 1287.2,805.9 1293.5,805.4 1299.9,808.4 1306.3,807.9 1312.7,813.4 1319.1,813.4 1325.5,815.9 1331.9,818.3 1338.3,819.0 1344.7,820.0 1351.0,820.0 1357.4,820.9 1363.8,822.7 1370.2,822.2 1376.6,823.5 1383.0,829.2 1389.4,832.0 1395.8,834.5 1402.1,836.2 1408.5,852.0 1414.9,852.0 1421.3,854.4" fill="none" stroke="#000" stroke-width="2"/>
<path d="M842.9,634.8L846.4,628.6L849.9,634.8L846.4,641.0ZM849.3,638.5L852.8,632.3L856.3,638.5L852.8,644.7ZM855.7,645.0L859.2,638.8L862.7,645.0L859.2,651.2ZM862.1,659.7L865.6,653.5L869.1,659.7L865.6,665.9ZM868.4,674.3L871.9,668.1L875.4,674.3L871.9,680.5ZM874.8,677.3L878.3,671.1L881.8,677.3L878.3,683.5ZM881.2,679.5L884.7,673.3L888.2,679.5L884.7,685.7ZM887.6,681.6L891.1,675.4L894.6,681.6L891.1,687.8ZM894.0,686.0L897.5,679.8L901.0,686.0L897.5,692.2ZM900.4,688.2L903.9,682.0L907.4,688.2L903.9,694.4ZM906.8,696.3L910.3,690.1L913.8,696.3L910.3,702.5ZM913.2,701.4L916.7,695.2L920.2,701.4L916.7,707.6ZM919.5,703.6L923.0,697.4L926.5,703.6L923.0,709.8ZM925.9,704.0L929.4,697.8L932.9,704.0L929.4,710.2ZM932.3,705.0L935.8,698.8L939.3,705.0L935.8,711.2ZM938.7,706.5L942.2,700.3L945.7,706.5L942.2,712.7ZM945.1,705.0L948.6,698.8L952.1,705.0L948.6,711.2ZM951.5,710.5L955.0,704.3L958.5,710.5L955.0,716.7ZM957.9,710.5L961.4,704.3L964.9,710.5L961.4,716.7ZM964.3,712.5L967.8,706.3L971.3,712.5L967.8,718.7ZM970.6,717.6L974.1,711.4L977.6,717.6L974.1,723.8ZM977.0,719.1L980.5,712.9L984.0,719.1L980.5,725.3ZM983.4,721.1L986.9,714.9L990.4,721.1L986.9,727.3ZM989.8,722.6L993.3,716.4L996.8,722.6L993.3,728.8ZM996.2,727.6L999.7,721.4L1003.2,727.6L999.7,733.8ZM1002.6,727.6L1006.1,721.4L1009.6,727.6L1006.1,733.8ZM1009.0,727.1L1012.5,720.9L1016.0,727.1L1012.5,733.3ZM1015.4,727.1L1018.9,720.9L1022.4,727.1L1018.9,733.3ZM1021.8,729.1L1025.3,722.9L1028.8,729.1L1025.3,735.3ZM1028.1,729.7L1031.6,723.5L1035.1,729.7L1031.6,735.9ZM1034.5,732.3L1038.0,726.1L1041.5,732.3L1038.0,738.5ZM1040.9,732.3L1044.4,726.1L1047.9,732.3L1044.4,738.5ZM1047.3,734.9L1050.8,728.7L1054.3,734.9L1050.8,741.1ZM1053.7,737.4L1057.2,731.2L1060.7,737.4L1057.2,743.6ZM1060.1,742.9L1063.6,736.7L1067.1,742.9L1063.6,749.1ZM1066.5,741.9L1070.0,735.7L1073.5,741.9L1070.0,748.1ZM1072.9,744.4L1076.4,738.2L1079.9,744.4L1076.4,750.6ZM1079.2,750.0L1082.7,743.8L1086.2,750.0L1082.7,756.2ZM1085.6,749.4L1089.1,743.2L1092.6,749.4L1089.1,755.6ZM1092.0,749.4L1095.5,743.2L1099.0,749.4L1095.5,755.6ZM1098.4,751.5L1101.9,745.3L1105.4,751.5L1101.9,757.7ZM1104.8,755.0L1108.3,748.8L1111.8,755.0L1108.3,761.2ZM1111.2,754.5L1114.7,748.3L1118.2,754.5L1114.7,760.7ZM1117.6,757.0L1121.1,750.8L1124.6,757.0L1121.1,763.2ZM1124.0,757.0L1127.5,750.8L1131.0,757.0L1127.5,763.2ZM1130.3,759.5L1133.8,753.3L1137.3,759.5L1133.8,765.7ZM1136.7,761.4L1140.2,755.2L1143.7,761.4L1140.2,767.6ZM1143.1,764.8L1146.6,758.6L1150.1,764.8L1146.6,771.0ZM1149.5,764.3L1153.0,758.1L1156.5,764.3L1153.0,770.5ZM1155.9,764.3L1159.4,758.1L1162.9,764.3L1159.4,770.5ZM1162.3,766.8L1165.8,760.6L1169.3,766.8L1165.8,773.0ZM1168.7,766.8L1172.2,760.6L1175.7,766.8L1172.2,773.0ZM1175.1,769.8L1178.6,763.6L1182.1,769.8L1178.6,776.0ZM1181.5,769.3L1185.0,763.1L1188.5,769.3L1185.0,775.5ZM1187.8,769.3L1191.3,763.1L1194.8,769.3L1191.3,775.5ZM1194.2,774.9L1197.7,768.7L1201.2,774.9L1197.7,781.1ZM1200.6,781.9L1204.1,775.7L1207.6,781.9L1204.1,788.1ZM1207.0,783.9L1210.5,777.7L1214.0,783.9L1210.5,790.1ZM1213.4,783.4L1216.9,777.2L1220.4,783.4L1216.9,789.6ZM1219.8,785.9L1223.3,779.7L1226.8,785.9L1223.3,792.1ZM1226.2,791.5L1229.7,785.3L1233.2,791.5L1229.7,797.7ZM1232.6,793.9L1236.1,787.7L1239.6,793.9L1236.1,800.1ZM1238.9,794.1L1242.4,787.9L1245.9,794.1L1242.4,800.3ZM1245.3,796.8L1248.8,790.6L1252.3,796.8L1248.8,803.0ZM1251.7,796.3L1255.2,790.1L1258.7,796.3L1255.2,802.5ZM1258.1,801.8L1261.6,795.6L1265.1,801.8L1261.6,808.0ZM1264.5,801.3L1268.0,795.1L1271.5,801.3L1268.0,807.5ZM1270.9,803.8L1274.4,797.6L1277.9,803.8L1274.4,810.0ZM1277.3,803.3L1280.8,797.1L1284.3,803.3L1280.8,809.5ZM1283.7,805.9L1287.2,799.7L1290.7,805.9L1287.2,812.1ZM1290.0,805.4L1293.5,799.2L1297.0,805.4L1293.5,811.6ZM1296.4,808.4L1299.9,802.2L1303.4,808.4L1299.9,814.6ZM1302.8,807.9L1306.3,801.7L1309.8,807.9L1306.3,814.1ZM1309.2,813.4L1312.7,807.2L1316.2,813.4L1312.7,819.6ZM1315.6,813.4L1319.1,807.2L1322.6,813.4L1319.1,819.6ZM1322.0,815.9L1325.5,809.7L1329.0,815.9L1325.5,822.1ZM1328.4,818.3L1331.9,812.1L1335.4,818.3L1331.9,824.5ZM1334.8,819.0L1338.3,812.8L1341.8,819.0L1338.3,825.2ZM1341.2,820.0L1344.7,813.8L1348.2,820.0L1344.7,826.2ZM1347.5,820.0L1351.0,813.8L1354.5,820.0L1351.0,826.2ZM1353.9,820.9L1357.4,814.7L1360.9,820.9L1357.4,827.1ZM1360.3,822.7L1363.8,816.5L1367.3,822.7L1363.8,828.9ZM1366.7,822.2L1370.2,816.0L1373.7,822.2L1370.2,828.4ZM1373.1,823.5L1376.6,817.3L1380.1,823.5L1376.6,829.7ZM1379.5,829.2L1383.0,823.0L1386.5,829.2L1383.0,835.4ZM1385.9,832.0L1389.4,825.8L1392.9,832.0L1389.4,838.2ZM1392.3,834.5L1395.8,828.3L1399.3,834.5L1395.8,840.7ZM1398.6,836.2L1402.1,830.0L1405.6,836.2L1402.1,842.4ZM1405.0,852.0L1408.5,845.8L1412.0,852.0L1408.5,858.2ZM1411.4,852.0L1414.9,845.8L1418.4,852.0L1414.9,858.2ZM1417.8,854.4L1421.3,848.2L1424.8,854.4L1421.3,860.6Z" fill="#000"/>
<path d="M840.6,113H1479.4M840.6,941.9H1479.4" stroke="#222" stroke-width="2.2" fill="none"/>
<path d="M840.6,113V941.9M1479.4,113V941.9" stroke="#555" stroke-width="2.6" fill="none"/>
<rect x="1245.6" y="123.3" width="226.4" height="230.3" fill="#fff" stroke="#222" stroke-width="2"/>
<line x1="1256.6" y1="154.7" x2="1316.2" y2="154.7" stroke="#e02020" stroke-width="2.2"/>
<path d="M1283.0,154.7L1286.0,148.7L1289.0,154.7L1286.0,160.7Z" fill="#dd0000"/>
<line x1="1256.6" y1="210.6" x2="1316.2" y2="210.6" stroke="#1010ff" stroke-width="2.2"/>
<path d="M1283.0,210.6L1286.0,204.6L1289.0,210.6L1286.0,216.6Z" fill="#0000ff"/>
<line x1="1256.6" y1="264" x2="1316.2" y2="264" stroke="#d08030" stroke-width="2.2"/>
<path d="M1283.0,264.0L1286.0,258.0L1289.0,264.0L1286.0,270.0Z" fill="#c9741f"/>
<line x1="1256.6" y1="319.5" x2="1316.2" y2="319.5" stroke="#000" stroke-width="2.2"/>
<path d="M1283.0,319.5L1286.0,313.5L1289.0,319.5L1286.0,325.5Z" fill="#000"/>
<g transform="translate(1319.9,172.8) scale(0.545,1)"><text font-size="35.5" fill="#111" stroke="#111" stroke-width="0.5">13</text></g>
<g transform="translate(1346.8,158.2) scale(0.56,1)"><text font-size="26" fill="#111" stroke="#111" stroke-width="0.5">th</text></g>
<g transform="translate(1372.0,172.8) scale(0.545,1)"><text font-size="35.5" fill="#111" stroke="#111" stroke-width="0.5">FC</text></g>
<g transform="translate(1403.8,172.8) scale(0.545,1)"><text font-size="35.5" fill="#111" stroke="#111" stroke-width="0.5">w</text></g>
<g transform="translate(1319.9,229.0) scale(0.545,1)"><text font-size="35.5" fill="#111" stroke="#111" stroke-width="0.5">12</text></g>
<g transform="translate(1341.7,214.4) scale(0.56,1)"><text font-size="26" fill="#111" stroke="#111" stroke-width="0.5">th</text></g>
<g transform="translate(1360.1,229.0) scale(0.545,1)"><text font-size="35.5" fill="#111" stroke="#111" stroke-width="0.5">-</text></g>
<g transform="translate(1372.0,229.0) scale(0.545,1)"><text font-size="35.5" fill="#111" stroke="#111" stroke-width="0.5">15</text></g>
<g transform="translate(1393.2,214.4) scale(0.56,1)"><text font-size="26" fill="#111" stroke="#111" stroke-width="0.5">th</text></g>
<g transform="translate(1417.4,229.0) scale(0.545,1)"><text font-size="35.5" fill="#111" stroke="#111" stroke-width="0.5">FC</text></g>
<g transform="translate(1449.4,229.0) scale(0.545,1)"><text font-size="35.5" fill="#111" stroke="#111" stroke-width="0.5">w</text></g>
<g transform="translate(1319.9,337.8) scale(0.545,1)"><text font-size="35.5" fill="#111" stroke="#111" stroke-width="0.5">12</text></g>
<g transform="translate(1341.7,323.2) scale(0.56,1)"><text font-size="26" fill="#111" stroke="#111" stroke-width="0.5">th</text></g>
<g transform="translate(1360.1,337.8) scale(0.545,1)"><text font-size="35.5" fill="#111" stroke="#111" stroke-width="0.5">-</text></g>
<g transform="translate(1372.0,337.8) scale(0.545,1)"><text font-size="35.5" fill="#111" stroke="#111" stroke-width="0.5">15</text></g>
<g transform="translate(1393.2,323.2) scale(0.56,1)"><text font-size="26" fill="#111" stroke="#111" stroke-width="0.5">th</text></g>
<g transform="translate(1417.4,337.8) scale(0.545,1)"><text font-size="35.5" fill="#111" stroke="#111" stroke-width="0.5">FC</text></g>
<g transform="translate(1449.2,337.8) scale(0.545,1)"><text font-size="35.5" fill="#111" stroke="#111" stroke-width="0.5">d</text></g>
<g transform="translate(1319.9,282.4) scale(0.545,1)"><text font-size="35.5" fill="#111" stroke="#111" stroke-width="0.5">13</text></g>
<g transform="translate(1341.7,267.8) scale(0.56,1)"><text font-size="26" fill="#111" stroke="#111" stroke-width="0.5">th</text></g>
<g transform="translate(1365.6,282.4) scale(0.545,1)"><text font-size="35.5" fill="#111" stroke="#111" stroke-width="0.5">FC</text></g>
<g transform="translate(1397.8,282.4) scale(0.545,1)"><text font-size="35.5" fill="#111" stroke="#111" stroke-width="0.5">d</text></g>
<g transform="translate(1017,1037.5) scale(0.6,1)"><text font-size="51.4" fill="#111" stroke="#111" stroke-width="0.9">channel pair number</text></g>
<g transform="translate(778,888.4) rotate(-90) scale(1,0.6)"><text font-size="46.2" fill="#111" stroke="#111" stroke-width="0.9" textLength="698.5" lengthAdjust="spacingAndGlyphs">group mean of rel. ampl. (Eq.(20))</text></g>
<g transform="translate(964.5,355.6) scale(0.56,1)"><text font-size="55.5" fill="#111" stroke="#111" stroke-width="0.9">w</text></g>
<g transform="translate(901,873) scale(0.63,1)"><text font-size="51.4" fill="#111" stroke="#111" stroke-width="0.9">d</text></g>
<line x1="957.1" y1="370.0" x2="901.1" y2="490.7" stroke="#000" stroke-width="1.5"/>
<polygon points="892.6,510.8 897.9,479.3 901.1,490.7 910.2,494.7" fill="#000"/>
<line x1="965.5" y1="372.4" x2="959.6" y2="424.7" stroke="#000" stroke-width="1.5"/>
<polygon points="955.1,449.3 952.1,414.1 959.6,424.7 967.4,419.1" fill="#000"/>
<line x1="921.8" y1="811.5" x2="935.8" y2="686.6" stroke="#000" stroke-width="1.5"/>
<polygon points="937.4,661.3 926.8,692.3 935.8,686.6 942.6,696.5" fill="#000"/>
<line x1="928.4" y1="809.3" x2="977.3" y2="744.4" stroke="#000" stroke-width="1.5"/>
<polygon points="986.8,723.4 966.8,738.1 977.3,744.4 975.7,757.6" fill="#000"/>
</g>
</svg>
</body></html>
